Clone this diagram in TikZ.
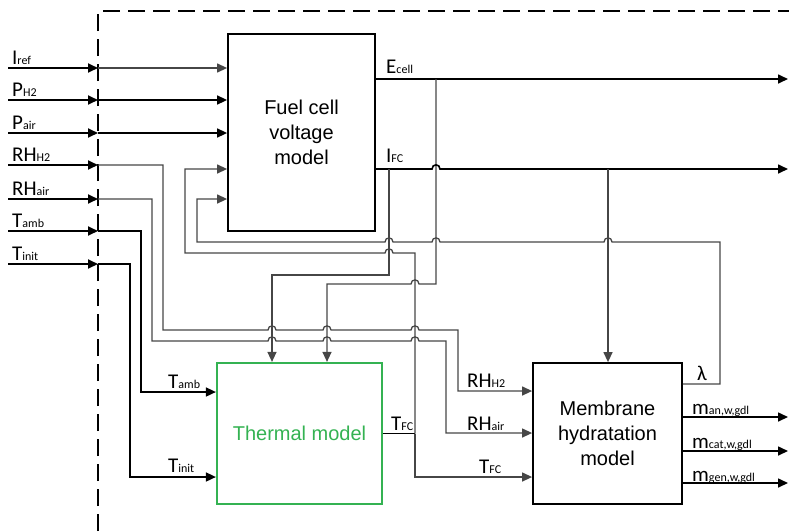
\documentclass[tikz,border=0pt]{standalone}
\usepackage{fontspec}
\setmainfont{Liberation Sans}
\newfontfamily\labfont{Carlito}
\usetikzlibrary{arrows.meta}
\definecolor{wirec}{RGB}{70,70,70}
\definecolor{thgreen}{RGB}{52,178,82}
\newcommand\sublab[2]{{\fontsize{21}{21}\selectfont #1}{\fontsize{12}{12}\selectfont #2}}
\newcommand\hopR[2]{-- (#1-4,#2) .. controls (#1-4,#2-5.5) and (#1+4,#2-5.5) .. (#1+4,#2)}
\newcommand\hopL[2]{-- (#1+4,#2) .. controls (#1+4,#2-5.5) and (#1-4,#2-5.5) .. (#1-4,#2)}
\tikzset{
  tip/.style={-{Triangle[length=10pt,width=9pt]}},
  lead/.style={draw=black, line width=1.8pt, tip},
  bwire/.style={draw=black, line width=1.6pt},
  wire/.style={draw=wirec, line width=1.3pt},
  box/.style={draw=black, line width=1.8pt, inner sep=0pt, align=center,
    font=\fontsize{20}{25}\selectfont},
  lbl/.style={inner sep=0pt, anchor=base west, font=\labfont},
  frame/.style={draw=black, line width=1.5pt, dash pattern=on 17pt off 8pt}
}
\begin{document}
\begin{tikzpicture}[x=1pt,y=-1pt, line join=miter]
\useasboundingbox (0,0) rectangle (789,531);
% frame
\coordinate (fl) at (98,11);
\draw[frame] (98,531) -- (fl) -- (789,11);
% boxes
\node[box, minimum width=147pt, minimum height=197pt] (fc) at (301.5,132.5) {Fuel cell\\voltage\\model};
\node[box, draw=thgreen, text=thgreen, line width=2.2pt, minimum width=165pt, minimum height=141pt] (th) at (299.5,433.5) {Thermal model};
\node[box, minimum width=149pt, minimum height=141pt] (mh) at (607.5,433.5) {Membrane\\hydratation\\model};
% input start points
\coordinate (iref) at (8,68);
\coordinate (ph2) at (8,100);
\coordinate (pair) at (8,133);
\coordinate (rhh) at (8,165);
\coordinate (rha) at (8,199);
\coordinate (tamb) at (8,231);
\coordinate (tinit) at (8,264);
\foreach \n in {iref,ph2,pair,rhh,rha,tamb,tinit} {
  \draw[lead] (\n) -- (\n -| fl);
}
% input labels
\node[lbl] (liref) at (12,64) {\sublab{I}{ref}};
\node[lbl] (lph2) at (12,96) {\sublab{P}{H2}};
\node[lbl] (lpair) at (12,129) {\sublab{P}{air}};
\node[lbl] (lrhh) at (12,161) {\sublab{RH}{H2}};
\node[lbl] (lrha) at (12,195) {\sublab{RH}{air}};
\node[lbl] (ltamb) at (12,227) {\sublab{T}{amb}};
\node[lbl] (ltinit) at (12,260) {\sublab{T}{init}};
% continuations into the fuel cell model
\draw[wire,tip] (iref -| fl) -- (iref -| fc.west);
\draw[bwire,tip] (ph2 -| fl) -- (ph2 -| fc.west);
\draw[bwire,tip] (pair -| fl) -- (pair -| fc.west);
% RH_H2 to membrane
\draw[wire,tip] (rhh -| fl) -- (163,165) -- (163,330) \hopR{272}{330} \hopR{327}{330} \hopR{415}{330} -- (458,330) -- (458,391) -- (mh.west |- 0,391);
% RH_air to membrane
\draw[wire,tip] (rha -| fl) -- (152,199) -- (152,341) \hopR{272}{341} \hopR{327}{341} \hopR{415}{341} -- (446,341) -- (446,433) -- (mh.west |- 0,433);
% T_amb, T_init to thermal
\draw[bwire,tip] (tamb -| fl) -- (141,231) -- (141,392) -- (th.west |- 0,392);
\draw[bwire,tip] (tinit -| fl) -- (130,264) -- (130,477) -- (th.west |- 0,477);
% E_cell
\draw[bwire,tip] (fc.east |- 0,79) -- (788,79);
\draw[wire,tip] (436,79) -- (436,284) \hopL{415}{284} -- (327,284) -- (327,0 |- th.north);
% I_FC
\draw[bwire,tip] (fc.east |- 0,169) \hopR{436}{169} -- (788,169);
\draw[wire,tip] (389,169) -- (389,275) -- (272,275) -- (272,0 |- th.north);
\draw[wire,tip] (608,169) -- (608,0 |- mh.north);
% lambda feedback
\draw[wire,tip] (mh.east |- 0,384) -- (720,384) -- (720,242) \hopL{608}{242} \hopL{436}{242} \hopL{389}{242} -- (197,242) -- (197,199) -- (fc.west |- 0,199);
% T_FC
\draw[bwire] (th.east) -- (415,433.5);
\draw[wire,tip] (415,433.5) -- (415,477) -- (mh.west |- 0,477);
\draw[wire,tip] (415,433.5) -- (415,253) \hopL{389}{253} -- (185,253) -- (185,169) -- (fc.west |- 0,169);
% membrane outputs
\draw[bwire,tip] (mh.east |- 0,417) -- (788,417);
\draw[bwire,tip] (mh.east |- 0,451) -- (788,451);
\draw[bwire,tip] (mh.east |- 0,483) -- (788,483);
% labels
\node[lbl] (lecell) at (386,73) {\sublab{E}{cell}};
\node[lbl] (lifc) at (386,162) {\sublab{I}{FC}};
\node[lbl] (llam) at (697,380) {\fontsize{21}{21}\selectfont λ};
\node[lbl] (lman) at (692,414) {\sublab{m}{an,w,gdl}};
\node[lbl] (lmcat) at (692,448) {\sublab{m}{cat,w,gdl}};
\node[lbl] (lmgen) at (692,481) {\sublab{m}{gen,w,gdl}};
\node[lbl] (lmrhh) at (467,387) {\sublab{RH}{H2}};
\node[lbl] (lmrha) at (467,430) {\sublab{RH}{air}};
\node[lbl] (lmtfc) at (479,473) {\sublab{T}{FC}};
\node[lbl] (lttfc) at (391,430) {\sublab{T}{FC}};
\node[lbl] (lttamb) at (168,388) {\sublab{T}{amb}};
\node[lbl] (lttinit) at (168,472) {\sublab{T}{init}};
\end{tikzpicture}
\end{document}
